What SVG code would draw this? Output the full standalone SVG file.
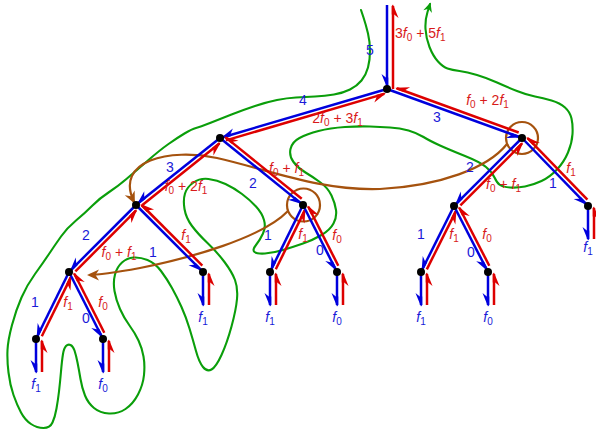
<svg xmlns="http://www.w3.org/2000/svg" width="596" height="431" viewBox="0 0 596 431">
<style>
text{font-family:"Liberation Sans",Arial,sans-serif;font-size:14px}
.b{fill:#1a1ad8}
.r{fill:#d81a1a}
.it{font-style:italic}
.sub{font-size:10px}
.bl{stroke:#0000dd;stroke-width:2.5;fill:none;marker-end:url(#hb)}
.rl{stroke:#dd0000;stroke-width:2.5;fill:none;marker-end:url(#hr)}
.dot{fill:#000}
.gr{stroke:#0a9e0a;stroke-width:2.1;fill:none;stroke-linejoin:round;stroke-linecap:round}
.br{stroke:#a5520e;stroke-width:2.2;fill:none}
</style>
<defs>
<marker id="hb" markerUnits="userSpaceOnUse" orient="auto" markerWidth="20" markerHeight="20" viewBox="-15 -10 20 20" refX="0" refY="0"><path d="M1.5,0 L-12,5.5 L-8.5,1.2 L-8.5,-1.25 L0,-1.25 Z" fill="#0000dd"/></marker>
<marker id="hr" markerUnits="userSpaceOnUse" orient="auto" markerWidth="20" markerHeight="20" viewBox="-15 -10 20 20" refX="0" refY="0"><path d="M1.5,0 L-12,5.5 L-8.5,1.2 L-8.5,-1.25 L0,-1.25 Z" fill="#dd0000"/></marker>
<marker id="ab" markerUnits="userSpaceOnUse" orient="auto" markerWidth="20" markerHeight="20" viewBox="-15 -10 20 20" refX="0" refY="0"><path d="M2,0 L-10,-5.5 L-6.5,0 L-10,5.5 Z" fill="#a5520e"/></marker>
<marker id="ag" markerUnits="userSpaceOnUse" orient="auto" markerWidth="20" markerHeight="20" viewBox="-15 -10 20 20" refX="0" refY="0"><path d="M1.5,0 L-8,-4.5 L-5,0 L-8,4.5 Z" fill="#0a9e0a"/></marker>
</defs>

<g id="contours">
<path class="gr" marker-end="url(#ag)" d="M361,10 L363.5,17.5 Q366,25 368,33.5 Q370,42 370,51 Q370,60 368,67.5 Q366,75 361.5,80.5 Q357,86 350,89.5 Q343,93 334,94.5 Q325,96 315,96.5 Q305,97 296,97.5 Q287,98 277,100 Q267,102 255,106 Q243,110 231.5,114.5 Q220,119 210,123 Q200,127 196,128 Q192,129 184.5,133.5 Q177,138 168.5,144 Q160,150 148.5,160 Q137,170 127,178.5 Q117,187 108.5,192.5 Q100,198 92.5,205.5 Q85,213 76,220.5 Q67,228 61,236.5 Q55,245 49,254 Q43,263 35,274 Q27,285 21.5,297.5 Q16,310 12,325 Q8,340 7.5,350 Q7,360 8.5,372.5 Q10,385 13.5,395 Q17,405 21,412.5 Q25,420 31,424 Q37,428 43.5,428 Q50,428 52.5,422.5 Q55,417 56.5,408.5 Q58,400 59,391.5 Q60,383 61,371.5 Q62,360 63,354 Q64,348 66,346 Q68,344 70.5,345 Q73,346 74.5,350.5 Q76,355 77.5,362.5 Q79,370 80.5,379 Q82,388 85,395.5 Q88,403 94,408 Q100,413 109,413.5 Q118,414 125.5,409 Q133,404 138,394.5 Q143,385 144,375 Q145,365 143.5,356.5 Q142,348 138.5,340.5 Q135,333 129.5,325.5 Q124,318 120,309 Q116,300 114.5,291 Q113,282 115,274.5 Q117,267 122,262.5 Q127,258 133.5,257.5 Q140,257 147.5,260 Q155,263 161,271 Q167,279 172,288 Q177,297 181.5,307 Q186,317 189.5,328.5 Q193,340 196,351 Q199,362 203,367 Q207,372 211.5,369.5 Q216,367 221.5,355 Q227,343 231.5,326.5 Q236,310 237,299 Q238,288 235,280 Q232,272 224.5,262 Q217,252 207.5,243 Q198,234 192,226 Q186,218 184.5,209 Q183,200 185,193.5 Q187,187 193.5,182.5 Q200,178 208.5,179 Q217,180 225.5,184 Q234,188 242,194 Q250,200 256,206.5 Q262,213 264,220 Q266,227 263,233.5 Q260,240 256,245 Q252,250 254.5,252 Q257,254 265,253.5 Q273,253 283,250 Q293,247 303,243.5 Q313,240 321.5,235 Q330,230 333.5,223.5 Q337,217 336,210 Q335,203 331.5,195.5 Q328,188 320.5,182.5 Q313,177 305.5,172.5 Q298,168 293.5,162 Q289,156 290.5,149 Q292,142 299.5,138 Q307,134 318.5,131 Q330,128 345,127 Q360,126 370,126.5 Q380,127 390,127.5 Q400,128 408.5,130.5 Q417,133 423.5,137 Q430,141 440,145.5 Q450,150 465,156 Q480,162 486,167 Q492,172 494.5,177.5 Q497,183 500,185 Q503,187 510,187.5 Q517,188 525,186.5 Q533,185 541.5,181 Q550,177 557,169.5 Q564,162 568,152.5 Q572,143 572.5,134 Q573,125 571.5,118.5 Q570,112 565,107.5 Q560,103 551.5,100.5 Q543,98 535,96.5 Q527,95 517,91 Q507,87 497,82.5 Q487,78 477,75 Q467,72 459.5,71 Q452,70 447.5,68.5 Q443,67 438,61.5 Q433,56 429.5,47 Q426,38 425.5,29 Q425,20 427.5,12 L430,4"/>
<circle class="br" cx="522" cy="138" r="16"/>
<circle class="br" cx="303.5" cy="205" r="16.5"/>
<path class="br" marker-end="url(#ab)" d="M507,144 C488,168 440,186 380,189 C320,191 270,170 217,158 C170,148 114,160 134,202"/>
<path class="br" marker-end="url(#ab)" d="M288,211 C262,238 190,258 140,268 C118,272 100,275 89,275"/>
</g>

<g id="connectors">
<path class="bl" d="M387,5 L387,86"/>
<path class="rl" d="M393,89 L393,6"/>
<path class="bl" d="M387,89 L222.9,137.2"/>
<path class="rl" d="M225.9,140.4 L384.3,93.9"/>
<path class="bl" d="M387,89 L519.2,137"/>
<path class="rl" d="M518.7,132.5 L396.9,88.3"/>
<path class="bl" d="M220,138 L138.3,203.1"/>
<path class="rl" d="M142.4,205 L219.4,143.6"/>
<path class="bl" d="M220,138 L300.7,203.1"/>
<path class="rl" d="M301.7,198.8 L225.7,137.4"/>
<path class="bl" d="M522,138 L456.1,203.9"/>
<path class="rl" d="M460.4,205.3 L522,143.7"/>
<path class="bl" d="M522,138 L585.9,203.9"/>
<path class="rl" d="M587.4,199.6 L527.7,138.1"/>
<path class="bl" d="M136,205 L71.1,269.9"/>
<path class="rl" d="M75.4,271.3 L136,210.7"/>
<path class="bl" d="M136,205 L200.9,269.9"/>
<path class="rl" d="M202.3,265.6 L141.7,205"/>
<path class="bl" d="M303,205 L271.3,269.3"/>
<path class="rl" d="M275.8,269.3 L304.8,210.4"/>
<path class="bl" d="M303,205 L335.6,269.3"/>
<path class="rl" d="M338.3,265.8 L308.4,206.8"/>
<path class="bl" d="M454,206 L422.3,269.3"/>
<path class="rl" d="M426.8,269.4 L455.8,211.4"/>
<path class="bl" d="M454,206 L486.6,269.3"/>
<path class="rl" d="M489.3,265.8 L459.4,207.8"/>
<path class="bl" d="M69,272 L37.3,336.3"/>
<path class="rl" d="M41.8,336.3 L70.8,277.4"/>
<path class="bl" d="M69,272 L101.6,336.3"/>
<path class="rl" d="M104.3,332.8 L74.4,273.8"/>
<path class="bl" d="M36,339 L36,372"/>
<path class="rl" d="M42,372 L42,341"/>
<path class="bl" d="M103,339 L103,372"/>
<path class="rl" d="M109,372 L109,341"/>
<path class="bl" d="M203,272 L203,305"/>
<path class="rl" d="M209,305 L209,274"/>
<path class="bl" d="M270,272 L270,305"/>
<path class="rl" d="M276,305 L276,274"/>
<path class="bl" d="M337,272 L337,305"/>
<path class="rl" d="M343,305 L343,274"/>
<path class="bl" d="M421,272 L421,305"/>
<path class="rl" d="M427,305 L427,274"/>
<path class="bl" d="M488,272 L488,305"/>
<path class="rl" d="M494,305 L494,274"/>
<path class="bl" d="M588,206 L588,239"/>
<path class="rl" d="M594,239 L594,208"/>
</g>

<g id="nodes">
<g id="n-root"><circle class="dot" cx="387" cy="89" r="4"/></g>
<g id="n-a"><circle class="dot" cx="220" cy="138" r="4"/></g>
<g id="n-b"><circle class="dot" cx="522" cy="138" r="4"/></g>
<g id="n-c"><circle class="dot" cx="136" cy="205" r="4"/></g>
<g id="n-d"><circle class="dot" cx="303" cy="205" r="4"/></g>
<g id="n-i"><circle class="dot" cx="454" cy="206" r="4"/></g>
<g id="n-j"><circle class="dot" cx="588" cy="206" r="4"/><text class="b" x="588" y="252" text-anchor="middle"><tspan class="it">f</tspan><tspan class="sub" dy="3">1</tspan></text></g>
<g id="n-e"><circle class="dot" cx="69" cy="272" r="4"/></g>
<g id="n-f"><circle class="dot" cx="203" cy="272" r="4"/><text class="b" x="203" y="322" text-anchor="middle"><tspan class="it">f</tspan><tspan class="sub" dy="3">1</tspan></text></g>
<g id="n-g"><circle class="dot" cx="270" cy="272" r="4"/><text class="b" x="270" y="322" text-anchor="middle"><tspan class="it">f</tspan><tspan class="sub" dy="3">1</tspan></text></g>
<g id="n-h"><circle class="dot" cx="337" cy="272" r="4"/><text class="b" x="337" y="322" text-anchor="middle"><tspan class="it">f</tspan><tspan class="sub" dy="3">0</tspan></text></g>
<g id="n-k"><circle class="dot" cx="421" cy="272" r="4"/><text class="b" x="421" y="322" text-anchor="middle"><tspan class="it">f</tspan><tspan class="sub" dy="3">1</tspan></text></g>
<g id="n-l"><circle class="dot" cx="488" cy="272" r="4"/><text class="b" x="488" y="322" text-anchor="middle"><tspan class="it">f</tspan><tspan class="sub" dy="3">0</tspan></text></g>
<g id="n-m"><circle class="dot" cx="36" cy="339" r="4"/><text class="b" x="36" y="389" text-anchor="middle"><tspan class="it">f</tspan><tspan class="sub" dy="3">1</tspan></text></g>
<g id="n-n"><circle class="dot" cx="103" cy="339" r="4"/><text class="b" x="103" y="389" text-anchor="middle"><tspan class="it">f</tspan><tspan class="sub" dy="3">0</tspan></text></g>
</g>

<g id="labels">
<text class="b" x="370" y="55" text-anchor="middle">5</text>
<text class="b" x="303" y="105" text-anchor="middle">4</text>
<text class="b" x="437" y="122" text-anchor="middle">3</text>
<text class="b" x="170" y="172" text-anchor="middle">3</text>
<text class="b" x="253" y="188" text-anchor="middle">2</text>
<text class="b" x="470" y="172" text-anchor="middle">2</text>
<text class="b" x="553" y="188" text-anchor="middle">1</text>
<text class="b" x="86" y="240" text-anchor="middle">2</text>
<text class="b" x="153" y="257" text-anchor="middle">1</text>
<text class="b" x="268" y="240" text-anchor="middle">1</text>
<text class="b" x="320" y="255" text-anchor="middle">0</text>
<text class="b" x="421" y="239" text-anchor="middle">1</text>
<text class="b" x="471" y="257" text-anchor="middle">0</text>
<text class="b" x="35" y="307" text-anchor="middle">1</text>
<text class="b" x="86" y="323" text-anchor="middle">0</text>

<text class="r" x="395" y="38">3<tspan class="it">f</tspan><tspan class="sub" dy="3">0</tspan><tspan dy="-3"> + 5</tspan><tspan class="it">f</tspan><tspan class="sub" dy="3">1</tspan></text>
<text class="r" x="337.5" y="123" text-anchor="middle">2<tspan class="it">f</tspan><tspan class="sub" dy="3">0</tspan><tspan dy="-3"> + 3</tspan><tspan class="it">f</tspan><tspan class="sub" dy="3">1</tspan></text>
<text class="r" x="487.5" y="105" text-anchor="middle"><tspan class="it">f</tspan><tspan class="sub" dy="3">0</tspan><tspan dy="-3"> + 2</tspan><tspan class="it">f</tspan><tspan class="sub" dy="3">1</tspan></text>
<text class="r" x="186" y="191" text-anchor="middle"><tspan class="it">f</tspan><tspan class="sub" dy="3">0</tspan><tspan dy="-3"> + 2</tspan><tspan class="it">f</tspan><tspan class="sub" dy="3">1</tspan></text>
<text class="r" x="286.5" y="173" text-anchor="middle"><tspan class="it">f</tspan><tspan class="sub" dy="3">0</tspan><tspan dy="-3"> + </tspan><tspan class="it">f</tspan><tspan class="sub" dy="3">1</tspan></text>
<text class="r" x="503.5" y="189" text-anchor="middle"><tspan class="it">f</tspan><tspan class="sub" dy="3">0</tspan><tspan dy="-3"> + </tspan><tspan class="it">f</tspan><tspan class="sub" dy="3">1</tspan></text>
<text class="r" x="119" y="257" text-anchor="middle"><tspan class="it">f</tspan><tspan class="sub" dy="3">0</tspan><tspan dy="-3"> + </tspan><tspan class="it">f</tspan><tspan class="sub" dy="3">1</tspan></text>
<text class="r" x="571" y="173" text-anchor="middle"><tspan class="it">f</tspan><tspan class="sub" dy="3">1</tspan></text>
<text class="r" x="186" y="240" text-anchor="middle"><tspan class="it">f</tspan><tspan class="sub" dy="3">1</tspan></text>
<text class="r" x="303" y="239" text-anchor="middle"><tspan class="it">f</tspan><tspan class="sub" dy="3">1</tspan></text>
<text class="r" x="337" y="240" text-anchor="middle"><tspan class="it">f</tspan><tspan class="sub" dy="3">0</tspan></text>
<text class="r" x="454" y="239" text-anchor="middle"><tspan class="it">f</tspan><tspan class="sub" dy="3">1</tspan></text>
<text class="r" x="487" y="239" text-anchor="middle"><tspan class="it">f</tspan><tspan class="sub" dy="3">0</tspan></text>
<text class="r" x="68" y="307" text-anchor="middle"><tspan class="it">f</tspan><tspan class="sub" dy="3">1</tspan></text>
<text class="r" x="103" y="307" text-anchor="middle"><tspan class="it">f</tspan><tspan class="sub" dy="3">0</tspan></text>
</g>
</svg>
